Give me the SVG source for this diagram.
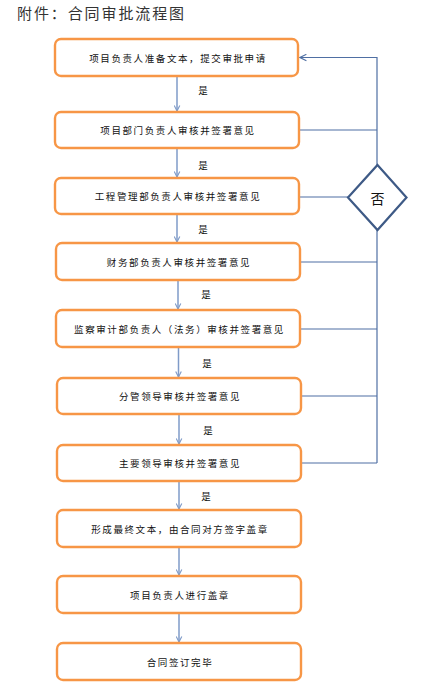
<svg xmlns="http://www.w3.org/2000/svg" width="423" height="688" viewBox="0 0 423 688">
<defs>
<style>
.box{fill:#ffffff;stroke:#f79646;stroke-width:2.4}
.bt{font-family:"Noto Sans CJK SC","Noto Sans",sans-serif;font-size:9.5px;letter-spacing:1.6px;fill:#111;text-anchor:middle;dominant-baseline:central}
.yes{font-family:"Noto Sans CJK SC","Noto Sans",sans-serif;font-size:9.5px;fill:#111;text-anchor:middle;dominant-baseline:central}
.down{stroke:#7f9bc8;stroke-width:1.5;fill:none}
.back{stroke:#4f6fa3;stroke-width:1.2;fill:none}
</style>
<marker id="ad" viewBox="0 0 10 10" refX="9" refY="5" markerWidth="7" markerHeight="7" markerUnits="userSpaceOnUse" orient="auto">
<path d="M1,1 L9,5 L1,9" fill="none" stroke="#7f9bc8" stroke-width="1.6"/>
</marker>
<marker id="ab" viewBox="0 0 10 10" refX="9" refY="5" markerWidth="8" markerHeight="8" markerUnits="userSpaceOnUse" orient="auto">
<path d="M1,1 L9,5 L1,9" fill="none" stroke="#4f6fa3" stroke-width="1.4"/>
</marker>
</defs>
<rect width="423" height="688" fill="#ffffff"/>
<text x="17" y="19" font-family="'Noto Sans CJK SC',sans-serif" font-size="15" letter-spacing="1.9" fill="#333">附件：合同审批流程图</text>

<g id="connectors">
<line class="down" x1="177" y1="77" x2="177" y2="111" marker-end="url(#ad)"/>
<line class="down" x1="177" y1="149" x2="177" y2="177" marker-end="url(#ad)"/>
<line class="down" x1="177" y1="215" x2="177" y2="242" marker-end="url(#ad)"/>
<line class="down" x1="178" y1="281" x2="178" y2="309" marker-end="url(#ad)"/>
<line class="down" x1="178.5" y1="348" x2="178.5" y2="377" marker-end="url(#ad)"/>
<line class="down" x1="179" y1="415" x2="179" y2="444" marker-end="url(#ad)"/>
<line class="down" x1="179" y1="482" x2="179" y2="509" marker-end="url(#ad)"/>
<line class="down" x1="179" y1="548" x2="179" y2="575" marker-end="url(#ad)"/>
<line class="down" x1="179" y1="614" x2="179" y2="642" marker-end="url(#ad)"/>
<text class="yes" x="203" y="90">是</text>
<text class="yes" x="203" y="165">是</text>
<text class="yes" x="203" y="229">是</text>
<text class="yes" x="206" y="294">是</text>
<text class="yes" x="207" y="363">是</text>
<text class="yes" x="208" y="430">是</text>
<text class="yes" x="206" y="496">是</text>
<polyline class="back" points="377,165 377,57.5 300,57.5" marker-end="url(#ab)"/>
<line class="back" x1="377" y1="230" x2="377" y2="463"/>
<line class="back" x1="300" y1="130" x2="377" y2="130"/>
<line class="back" x1="300" y1="197" x2="348" y2="197"/>
<line class="back" x1="301" y1="262" x2="377" y2="262"/>
<line class="back" x1="301" y1="329" x2="377" y2="329"/>
<line class="back" x1="302" y1="396" x2="377" y2="396"/>
<line class="back" x1="302" y1="463" x2="377" y2="463"/>
</g>

<g id="n1"><rect class="box" x="55" y="39" width="243" height="37" rx="6"/><text class="bt" x="178" y="57.5">项目负责人准备文本，提交审批申请</text></g>
<g id="n2"><rect class="box" x="55" y="112" width="244" height="36" rx="6"/><text class="bt" x="178" y="130">项目部门负责人审核并签署意见</text></g>
<g id="n3"><rect class="box" x="55" y="178" width="244" height="36" rx="6"/><text class="bt" x="178" y="196">工程管理部负责人审核并签署意见</text></g>
<g id="n4"><rect class="box" x="56" y="243" width="244" height="37" rx="6"/><text class="bt" x="179" y="261.5">财务部负责人审核并签署意见</text></g>
<g id="n5"><rect class="box" x="56" y="310" width="244" height="37" rx="6"/><text class="bt" x="179.5" y="328.5">监察审计部负责人（法务）审核并签署意见</text></g>
<g id="n6"><rect class="box" x="57" y="378" width="244" height="36" rx="6"/><text class="bt" x="180" y="396">分管领导审核并签署意见</text></g>
<g id="n7"><rect class="box" x="57" y="445" width="244" height="36" rx="6"/><text class="bt" x="180" y="463">主要领导审核并签署意见</text></g>
<g id="n8"><rect class="box" x="57" y="510" width="244" height="37" rx="6"/><text class="bt" x="180" y="528.5">形成最终文本，由合同对方签字盖章</text></g>
<g id="n9"><rect class="box" x="57" y="576" width="244" height="37" rx="6"/><text class="bt" x="180" y="594.5">项目负责人进行盖章</text></g>
<g id="n10"><rect class="box" x="57" y="643" width="244" height="37" rx="6"/><text class="bt" x="180" y="661.5">合同签订完毕</text></g>

<g id="decision">
<polygon points="377.5,165 406.5,197.5 377.5,230 348,197.5" fill="#ffffff" stroke="#3e5a86" stroke-width="2.2"/>
<text x="377.5" y="198" font-family="'Noto Sans CJK SC',sans-serif" font-size="14" fill="#111" text-anchor="middle" dominant-baseline="central">否</text>
</g>
</svg>
